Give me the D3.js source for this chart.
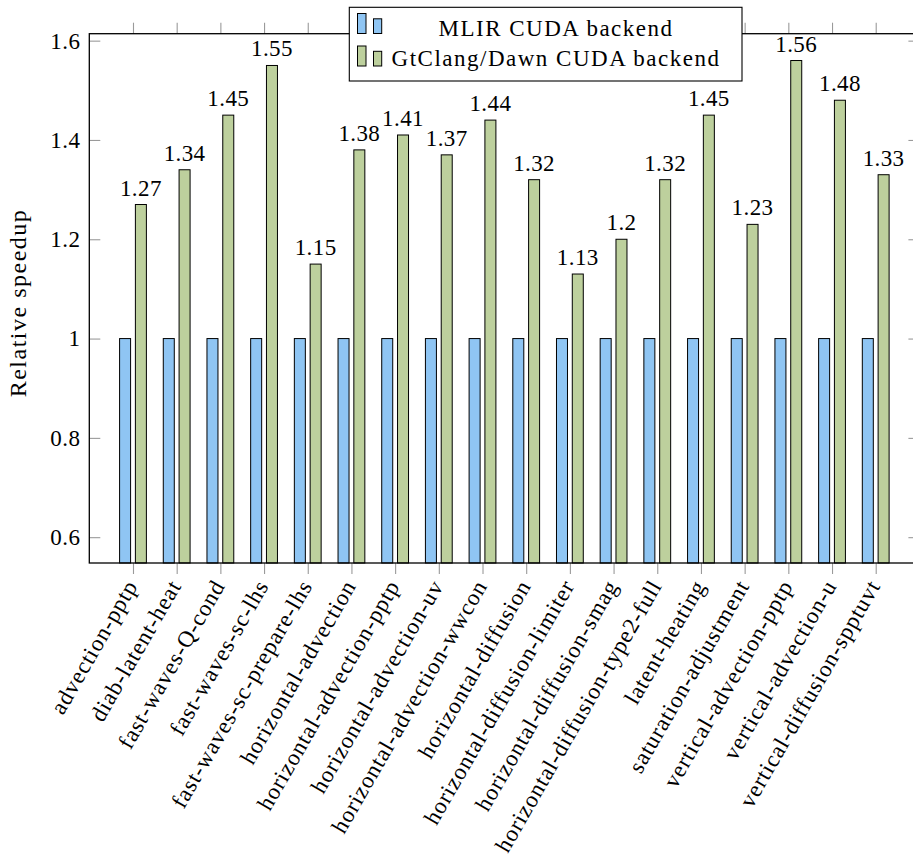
<!DOCTYPE html>
<html>
<head>
<meta charset="utf-8">
<script src="https://cdn.jsdelivr.net/npm/d3@7"></script>
<style>
  body { margin: 0; background: #fff; }
  svg text { font-family: "Liberation Serif", "DejaVu Serif", serif; font-size: 23px; fill: #000; }
</style>
</head>
<body>
<svg width="913" height="858"></svg>
<script>
var categories = [
    'advection-pptp', 'diab-latent-heat', 'fast-waves-Q-cond', 'fast-waves-sc-lhs',
    'fast-waves-sc-prepare-lhs', 'horizontal-advection', 'horizontal-advection-pptp',
    'horizontal-advection-uv', 'horizontal-advection-wwcon', 'horizontal-diffusion',
    'horizontal-diffusion-limiter', 'horizontal-diffusion-smag', 'horizontal-diffusion-type2-full',
    'latent-heating', 'saturation-adjustment', 'vertical-advection-pptp',
    'vertical-advection-u', 'vertical-diffusion-spptuvt'
];
var mlirValues = [1, 1, 1, 1, 1, 1, 1, 1, 1, 1, 1, 1, 1, 1, 1, 1, 1, 1];
var gtclangValues = [1.27, 1.34, 1.45, 1.55, 1.15, 1.38, 1.41, 1.37, 1.44, 1.32, 1.13, 1.2, 1.32, 1.45, 1.23, 1.56, 1.48, 1.33];
var seriesNames = ['MLIR CUDA backend', 'GtClang/Dawn CUDA backend'];
var seriesColors = ['#8fc5f3', '#bdd09d'];
var yTicks = [0.6, 0.8, 1, 1.2, 1.4, 1.6];

var plotLeft = 89.3, plotRight = 919.4, plotTop = 33.7, plotBottom = 563;
var barW = 11, barOff = 7.9;

var svg = d3.select('svg');

var xScale = d3.scalePoint()
    .domain(categories)
    .range([plotLeft, plotRight])
    .padding(1);

var yScale = d3.scaleLinear()
    .domain([0.548, 1.614])
    .range([plotBottom, plotTop]);

// bars
var series = [mlirValues, gtclangValues];
series.forEach(function(vals, s){
    svg.append('g').selectAll('rect')
        .data(vals)
        .enter()
        .append('rect')
        .attr('x', function(d, i){ return xScale(categories[i]) + (s == 0 ? -barOff : barOff) - barW / 2; })
        .attr('y', function(d){ return yScale(d); })
        .attr('width', barW)
        .attr('height', function(d){ return plotBottom - yScale(d); })
        .style('fill', seriesColors[s])
        .style('stroke', '#000')
        .style('stroke-width', 1);
});

// value labels over green bars
svg.append('g').selectAll('text')
    .data(gtclangValues)
    .enter()
    .append('text')
    .attr('x', function(d, i){ return xScale(categories[i]) + barOff; })
    .attr('y', function(d){ return yScale(d) - 9; })
    .attr('text-anchor', 'middle')
    .attr('letter-spacing', 0.4)
    .text(function(d){ return String(d); });

// axes
var yAxis = d3.axisLeft(yScale).tickValues(yTicks).tickSize(-11).tickPadding(9)
    .tickFormat(function(d){ return String(d); });
var yg = svg.append('g')
    .attr('transform', 'translate(' + plotLeft + ',0)')
    .call(yAxis);

var yAxisR = d3.axisRight(yScale).tickValues(yTicks).tickSize(-11).tickFormat('');
var yr = svg.append('g')
    .attr('transform', 'translate(' + plotRight + ',0)')
    .call(yAxisR);

var xAxis = d3.axisBottom(xScale).tickSize(11).tickFormat('');
var xg = svg.append('g')
    .attr('transform', 'translate(0,' + plotBottom + ')')
    .call(xAxis);

var xAxisTop = d3.axisTop(xScale).tickSize(11).tickFormat('');
var xt = svg.append('g')
    .attr('transform', 'translate(0,' + plotTop + ')')
    .call(xAxisTop);

[yg, yr, xg, xt].forEach(function(g){
    g.attr('font-size', null).attr('font-family', null);
    g.select('.domain').remove();
    g.selectAll('line').style('stroke', '#9a9a9a').style('stroke-width', 1.1);
    g.selectAll('text').attr('fill', '#000').attr('letter-spacing', 0.4);
});

// category labels
svg.append('g').selectAll('text')
    .data(categories)
    .enter()
    .append('text')
    .attr('transform', function(d){ return 'translate(' + (xScale(d) - 1) + ',' + (plotBottom + 19) + ') rotate(-60)'; })
    .attr('text-anchor', 'end')
    .attr('dy', '0.32em')
    .attr('letter-spacing', 0.9)
    .text(function(d){ return d; });

// frame
svg.append('rect')
    .attr('x', plotLeft).attr('y', plotTop)
    .attr('width', plotRight - plotLeft).attr('height', plotBottom - plotTop)
    .style('fill', 'none').style('stroke', '#000').style('stroke-width', 1.3);

// y label
svg.append('text')
    .attr('transform', 'translate(26,303) rotate(-90)')
    .attr('text-anchor', 'middle')
    .attr('letter-spacing', 1.5)
    .style('font-size', '24px')
    .text('Relative speedup');

// legend
var legend = svg.append('g');
legend.append('rect')
    .attr('x', 349.3).attr('y', 7.3).attr('width', 392.7).attr('height', 73.7)
    .style('fill', '#fff').style('stroke', '#000').style('stroke-width', 1.1);
seriesNames.forEach(function(name, s){
    var base = s == 0 ? 33.5 : 66;
    legend.append('rect')
        .attr('x', 357.5).attr('y', base - 20).attr('width', 8.5).attr('height', 20)
        .style('fill', seriesColors[s]).style('stroke', '#000').style('stroke-width', 1);
    legend.append('rect')
        .attr('x', 373.5).attr('y', base - 14.7).attr('width', 8.2).attr('height', 14.7)
        .style('fill', seriesColors[s]).style('stroke', '#000').style('stroke-width', 1);
    legend.append('text')
        .attr('x', 556).attr('y', s == 0 ? 36 : 66)
        .attr('text-anchor', 'middle')
        .attr('letter-spacing', 1.5)
        .text(name);
});
</script>
</body>
</html>
